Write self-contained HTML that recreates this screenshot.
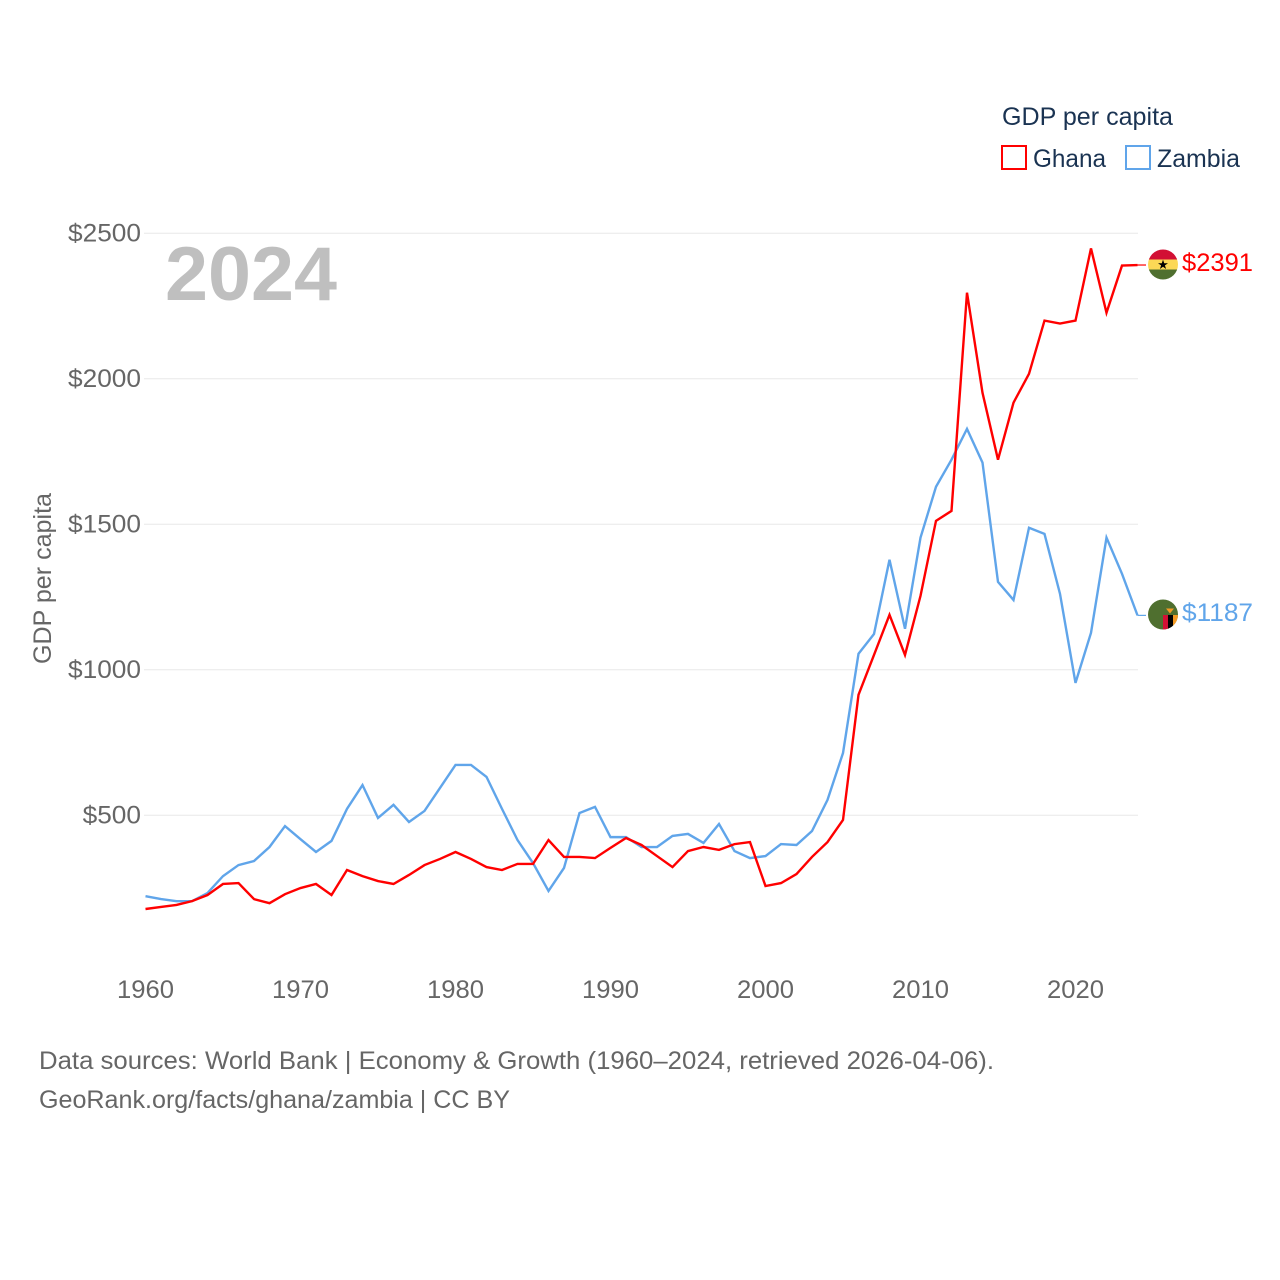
<!DOCTYPE html>
<html lang="en">
<head>
<meta charset="utf-8">
<title>GDP per capita: Ghana and Zambia</title>
<style>
html,body{margin:0;padding:0;background:#fff;}
svg{display:block;}
text{font-family:"Liberation Sans",sans-serif;}
</style>
</head>
<body>
<svg id="chart" width="1280" height="1280" viewBox="0 0 1280 1280" xmlns="http://www.w3.org/2000/svg">
  <defs>
    <clipPath id="clip-ghana"><circle cx="1163" cy="264.5" r="15"/></clipPath>
    <clipPath id="clip-zambia"><circle cx="1163" cy="614.5" r="15"/></clipPath>
  </defs>
  <rect width="1280" height="1280" fill="#ffffff"/>
  <g id="grid"></g>
  <g id="yticks"></g>
  <g id="xticks"></g>
  <text transform="translate(51,664) rotate(-90)" font-size="25" fill="#666666" textLength="171" lengthAdjust="spacingAndGlyphs">GDP per capita</text>
  <text x="165" y="300" font-size="76" font-weight="700" fill="#bfbfbf" textLength="172" lengthAdjust="spacingAndGlyphs">2024</text>
  <g id="series"></g>

  <g>
    <text x="1002" y="125" font-size="25" fill="#1a3352" textLength="171" lengthAdjust="spacingAndGlyphs">GDP per capita</text>
    <rect x="1002" y="146" width="24" height="23" fill="none" stroke="#ff0000" stroke-width="2"/>
    <text x="1033" y="167" font-size="25" fill="#1a3352" textLength="73" lengthAdjust="spacingAndGlyphs">Ghana</text>
    <rect x="1126" y="146" width="24" height="23" fill="none" stroke="#60a5ea" stroke-width="2"/>
    <text x="1157" y="167" font-size="25" fill="#1a3352" textLength="83" lengthAdjust="spacingAndGlyphs">Zambia</text>
  </g>

  <g clip-path="url(#clip-ghana)">
    <rect x="1148" y="249" width="30" height="10.5" fill="#d21034"/>
    <rect x="1148" y="259.5" width="30" height="10" fill="#fcd856"/>
    <rect x="1148" y="269.5" width="30" height="11" fill="#4f6f2f"/>
    <polygon points="1163,259.6 1164.2,263.2 1168,263.2 1164.9,265.4 1166.1,269 1163,266.8 1159.9,269 1161.1,265.4 1158,263.2 1161.8,263.2" fill="#000000"/>
  </g>
  <g clip-path="url(#clip-zambia)">
    <rect x="1148" y="599" width="30" height="31" fill="#4f6f2f"/>
    <rect x="1163" y="615" width="5" height="15" fill="#d21034"/>
    <rect x="1168" y="615" width="5" height="15" fill="#000000"/>
    <rect x="1173" y="615" width="5" height="15" fill="#f59a23"/>
    <polygon points="1166,608.5 1174,608.5 1170,613.5" fill="#f59a23"/>
  </g>
  <text id="value-ghana" x="1182" y="271" font-size="25" fill="#ff0000" textLength="71" lengthAdjust="spacingAndGlyphs">$2391</text>
  <text id="value-zambia" x="1182" y="621" font-size="25" fill="#60a5ea" textLength="71" lengthAdjust="spacingAndGlyphs">$1187</text>

  <text x="39" y="1069" font-size="25" fill="#666666" textLength="955" lengthAdjust="spacingAndGlyphs">Data sources: World Bank | Economy &amp; Growth (1960–2024, retrieved 2026-04-06).</text>
  <text x="39" y="1108" font-size="25" fill="#666666" textLength="471" lengthAdjust="spacingAndGlyphs">GeoRank.org/facts/ghana/zambia | CC BY</text>
</svg>
<script>
const startYear = 1960;
const ghanaValues = [178,185,192,205,226,264,267,212,198,229,250,264,226,312,291,274,264,295,329,350,374,350,322,312,333,333,415,357,357,353,388,422,398,360,322,377,391,381,401,408,257,267,298,357,408,484,914,1051,1189,1051,1254,1512,1546,2296,1952,1722,1918,2017,2200,2190,2200,2448,2227,2389,2391];
const zambiaValues = [222,212,205,205,233,291,329,343,391,463,418,374,412,522,604,491,536,477,515,594,673,673,632,522,415,336,240,319,508,529,425,425,391,391,429,436,405,470,377,353,360,401,398,446,553,714,1055,1123,1378,1141,1454,1629,1722,1828,1712,1302,1240,1488,1467,1261,955,1127,1454,1330,1187];
const yTickValues = [500,1000,1500,2000,2500];
const yTickLabels = ["$500","$1000","$1500","$2000","$2500"];
const xTickValues = [1960,1970,1980,1990,2000,2010,2020];
const xTickLabels = ["1960","1970","1980","1990","2000","2010","2020"];

const NS = "http://www.w3.org/2000/svg";
function xScale(year) { return 145.5 + (year - 1960) * 15.5; }
function yScale(value) { return 815.3 - (value - 500) * 0.291; }

const gridGroup = document.getElementById("grid");
const yGroup = document.getElementById("yticks");
const xGroup = document.getElementById("xticks");
const seriesGroup = document.getElementById("series");
const lastYear = startYear + ghanaValues.length - 1;

yTickValues.forEach(function (v, i) {
  const y = yScale(v);
  const line = document.createElementNS(NS, "line");
  line.setAttribute("x1", 144);
  line.setAttribute("x2", 1138);
  line.setAttribute("y1", y);
  line.setAttribute("y2", y);
  line.setAttribute("stroke", "#e8e8e8");
  line.setAttribute("stroke-width", 1);
  
  
  gridGroup.appendChild(line);

  const label = document.createElementNS(NS, "text");
  label.textContent = yTickLabels[i];
  const w = yTickLabels[i].length * 14.6;
  label.setAttribute("x", 141 - w);
  label.setAttribute("y", y + 8);
  label.setAttribute("font-size", 25);
  label.setAttribute("fill", "#666666");
  label.setAttribute("textLength", w);
  label.setAttribute("lengthAdjust", "spacingAndGlyphs");
  
  
  yGroup.appendChild(label);
});

xTickValues.forEach(function (v, i) {
  const label = document.createElementNS(NS, "text");
  label.textContent = xTickLabels[i];
  label.setAttribute("x", xScale(v) - 28.5);
  label.setAttribute("y", 998);
  label.setAttribute("font-size", 25);
  label.setAttribute("fill", "#666666");
  label.setAttribute("textLength", 57);
  label.setAttribute("lengthAdjust", "spacingAndGlyphs");
  
  
  xGroup.appendChild(label);
});

function drawSeries(values, color, connectorEnd) {
  const points = values.map(function (v, i) {
    return xScale(startYear + i).toFixed(2) + "," + yScale(v).toFixed(2);
  }).join(" ");
  const path = document.createElementNS(NS, "polyline");
  path.setAttribute("points", points);
  path.setAttribute("fill", "none");
  path.setAttribute("stroke", color);
  path.setAttribute("stroke-width", 2.4);
  path.setAttribute("stroke-linejoin", "miter");
  
  
  seriesGroup.appendChild(path);

  const lastY = yScale(values[values.length - 1]);
  const connector = document.createElementNS(NS, "line");
  connector.setAttribute("x1", xScale(lastYear));
  connector.setAttribute("x2", connectorEnd);
  connector.setAttribute("y1", lastY);
  connector.setAttribute("y2", lastY);
  connector.setAttribute("stroke", color);
  connector.setAttribute("stroke-width", 1.2);
  
  
  seriesGroup.appendChild(connector);
}

drawSeries(zambiaValues, "#60a5ea", 1146);
drawSeries(ghanaValues, "#ff0000", 1146);
</script>
</body>
</html>
